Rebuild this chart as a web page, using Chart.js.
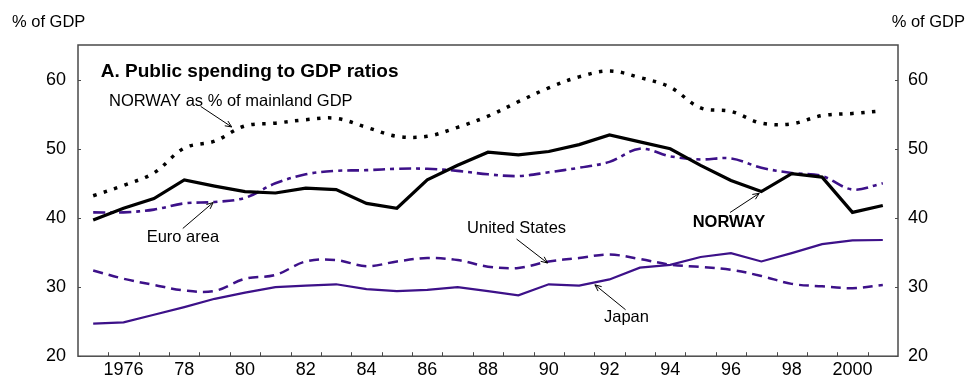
<!DOCTYPE html>
<html>
<head>
<meta charset="utf-8">
<script src="https://cdn.jsdelivr.net/npm/chart.js@4/dist/chart.umd.min.js"></script>
<style>
  html, body { margin: 0; padding: 0; background: #fff; }
  #wrap { width: 966px; height: 379px; }
</style>
</head>
<body>
<div id="wrap"><canvas id="c" width="966" height="379"></canvas></div>
<script>
// Public spending as % of GDP, 1975-2001
const years = [1975, 1976, 1977, 1978, 1979, 1980, 1981, 1982, 1983, 1984, 1985, 1986, 1987, 1988,
               1989, 1990, 1991, 1992, 1993, 1994, 1995, 1996, 1997, 1998, 1999, 2000, 2001];

const norway = [39.7, 41.4, 42.8, 45.5, 44.6, 43.8, 43.6, 44.3, 44.1, 42.1, 41.4, 45.5, 47.6, 49.5,
                49.1, 49.6, 50.6, 52.0, 51.0, 50.0, 47.6, 45.4, 43.8, 46.4, 45.9, 40.8, 41.8];

const norwayMainland = [43.2, 44.7, 46.5, 50.1, 51.1, 53.3, 53.7, 54.2, 54.4, 53.1, 51.8, 51.8, 53.1, 54.7,
                        56.8, 58.8, 60.4, 61.25, 60.3, 58.9, 55.9, 55.4, 53.7, 53.6, 54.8, 55.1, 55.5];

const euroArea = [40.8, 40.8, 41.2, 42.1, 42.3, 42.9, 45.0, 46.3, 46.8, 46.9, 47.1, 47.1, 46.8, 46.3,
                  46.05, 46.6, 47.25, 48.1, 50.0, 48.9, 48.45, 48.6, 47.25, 46.5, 46.05, 44.1, 45.0];

const unitedStates = [32.4, 31.2, 30.3, 29.5, 29.45, 31.2, 31.75, 33.7, 33.9, 33.0, 33.7, 34.2, 33.9, 32.95,
                      32.76, 33.7, 34.2, 34.7, 34.06, 33.24, 32.9, 32.5, 31.6, 30.46, 30.1, 29.84, 30.3];

const japan = [24.7, 24.9, 26.0, 27.1, 28.3, 29.2, 30.0, 30.2, 30.4, 29.7, 29.4, 29.6, 30.0, 29.4,
               28.8, 30.4, 30.2, 31.1, 32.8, 33.2, 34.35, 34.9, 33.7, 34.9, 36.2, 36.75, 36.8];

const xTickYears  = [1976, 1978, 1980, 1982, 1984, 1986, 1988, 1990, 1992, 1994, 1996, 1998, 2000];
const xTickLabels = ['1976', '78', '80', '82', '84', '86', '88', '90', '92', '94', '96', '98', '2000'];
const yTicks = [20, 30, 40, 50, 60];

const PURPLE = '#3d1189';
const FRAME = '#4a4a4a';
const FONT = '"Liberation Sans", Arial, Helvetica, sans-serif';

const toPoints = arr => years.map((yr, i) => ({ x: yr, y: arr[i] }));

// Text labels and pointer arrows, anchored in data space (year, % of GDP)
const labels = [
  { text: 'A. Public spending to GDP ratios', x: 1975.25, y: 61.1, bold: true, size: 19 },
  { text: 'NORWAY as % of mainland GDP', x: 1975.52, y: 56.9, size: 16.5 },
  { text: 'Euro area', x: 1976.76, y: 37.1, size: 16.5 },
  { text: 'United States', x: 1987.31, y: 38.5, size: 16.5 },
  { text: 'Japan', x: 1991.82, y: 25.6, size: 16.5 },
  { text: 'NORWAY', x: 1994.74, y: 39.4, bold: true, size: 16.5 }
];
const arrows = [
  { from: [1978.54, 56.12], to: [1979.56, 53.15] },
  { from: [1977.95, 38.47], to: [1978.95, 42.22] },
  { from: [1988.94, 36.94], to: [1989.96, 33.48] },
  { from: [1992.53, 26.72], to: [1991.52, 30.32] },
  { from: [1995.97, 40.78], to: [1996.93, 43.55] }
];

const decorations = {
  id: 'decorations',
  afterDatasetsDraw(chart) {
    const { ctx, chartArea: a, scales } = chart;
    const xs = scales.x, ys = scales.y;
    ctx.save();

    // frame
    ctx.strokeStyle = FRAME;
    ctx.lineWidth = 1.5;
    ctx.strokeRect(a.left, a.top, a.right - a.left, a.bottom - a.top);

    // inward tick marks: year boundaries on the x axis, values on both y axes
    ctx.lineWidth = 1;
    ctx.beginPath();
    for (let i = 0; i < years.length - 1; i++) {
      const px = Math.round(xs.getPixelForValue((years[i] + years[i + 1]) / 2)) + 0.5;
      ctx.moveTo(px, a.bottom);
      ctx.lineTo(px, a.bottom - 4);
    }
    yTicks.forEach(v => {
      const py = Math.round(ys.getPixelForValue(v)) + 0.5;
      ctx.moveTo(a.left, py); ctx.lineTo(a.left + 3, py);
      ctx.moveTo(a.right, py); ctx.lineTo(a.right - 3, py);
    });
    ctx.stroke();

    // arrows
    ctx.strokeStyle = '#000';
    ctx.lineWidth = 1;
    arrows.forEach(ar => {
      const x1 = xs.getPixelForValue(ar.from[0]), y1 = ys.getPixelForValue(ar.from[1]);
      const x2 = xs.getPixelForValue(ar.to[0]), y2 = ys.getPixelForValue(ar.to[1]);
      const ang = Math.atan2(y2 - y1, x2 - x1);
      const len = 7, spread = 0.42;
      ctx.beginPath();
      ctx.moveTo(x1, y1); ctx.lineTo(x2, y2);
      ctx.moveTo(x2 - len * Math.cos(ang - spread), y2 - len * Math.sin(ang - spread));
      ctx.lineTo(x2, y2);
      ctx.lineTo(x2 - len * Math.cos(ang + spread), y2 - len * Math.sin(ang + spread));
      ctx.stroke();
    });

    // labels
    ctx.fillStyle = '#000';
    ctx.textBaseline = 'middle';
    ctx.textAlign = 'left';
    labels.forEach(l => {
      ctx.font = (l.bold ? 'bold ' : '') + l.size + 'px ' + FONT;
      ctx.fillText(l.text, xs.getPixelForValue(l.x), ys.getPixelForValue(l.y));
    });

    // axis unit captions
    ctx.font = '16.5px ' + FONT;
    ctx.textAlign = 'left';
    ctx.fillText('% of GDP', 12, 22);
    ctx.textAlign = 'right';
    ctx.fillText('% of GDP', 965, 22);
    ctx.restore();
  }
};

const yAxisBase = {
  min: 20, max: 65,
  afterBuildTicks: s => { s.ticks = yTicks.map(v => ({ value: v })); },
  grid: { display: false, drawTicks: false },
  border: { display: false },
  ticks: { color: '#000', font: { family: FONT, size: 18 } }
};

new Chart(document.getElementById('c'), {
  type: 'line',
  data: {
    datasets: [
      { label: 'NORWAY', data: toPoints(norway), borderColor: '#000', borderWidth: 3.2, tension: 0 },
      { label: 'NORWAY as % of mainland GDP', data: toPoints(norwayMainland), borderColor: '#000',
        borderWidth: 3.5, borderDash: [3.5, 7.5], tension: 0.35 },
      { label: 'Euro area', data: toPoints(euroArea), borderColor: PURPLE, borderWidth: 2.6,
        borderDash: [12, 5, 4, 5], tension: 0.35 },
      { label: 'United States', data: toPoints(unitedStates), borderColor: PURPLE, borderWidth: 2.5,
        borderDash: [10, 6], tension: 0.35 },
      { label: 'Japan', data: toPoints(japan), borderColor: PURPLE, borderWidth: 2.2, tension: 0 }
    ]
  },
  options: {
    responsive: false,
    animation: false,
    devicePixelRatio: 1,
    layout: { padding: { top: 45, left: 0, right: 0, bottom: 0 } },
    elements: { point: { radius: 0 }, line: { fill: false, borderCapStyle: 'butt' } },
    plugins: { legend: { display: false }, tooltip: { enabled: false }, title: { display: false } },
    scales: {
      x: {
        type: 'linear', min: 1974.5, max: 2001.5,
        afterBuildTicks: s => { s.ticks = xTickYears.map(v => ({ value: v })); },
        afterFit: s => { s.height = 21; },
        grid: { display: false, drawTicks: false },
        border: { display: false },
        ticks: {
          color: '#000', padding: 3.5, maxRotation: 0, autoSkip: false,
          font: { family: FONT, size: 18 },
          callback: v => xTickLabels[xTickYears.indexOf(v)]
        }
      },
      y: Object.assign({}, yAxisBase, {
        position: 'left',
        afterFit: s => { s.width = 78; },
        ticks: Object.assign({}, yAxisBase.ticks, { padding: 12 })
      }),
      y2: Object.assign({}, yAxisBase, {
        position: 'right',
        afterFit: s => { s.width = 68; },
        ticks: Object.assign({}, yAxisBase.ticks, { padding: 10 })
      })
    }
  },
  plugins: [decorations]
});
</script>
</body>
</html>
